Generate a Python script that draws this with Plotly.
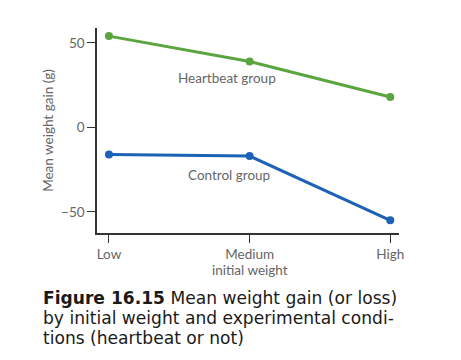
import plotly.graph_objects as go

categories = ["Low", "Medium", "High"]
heartbeat = [54, 39, 18]
control = [-16, -17, -55]
x_pos = [0, 1, 2]
y_ticks = [-50, 0, 50]
y_ticktext = ["\u221250", "0", "50"]

caption_lines = [
    "<b>Figure 16.15</b> Mean weight gain (or loss)",
    "by initial weight and experimental condi-",
    "tions (heartbeat or not)",
]

green = "#5aa540"
blue = "#1c62b5"
gray = "#666666"
tickfont = dict(family="Lato, sans-serif", size=13.5, color=gray)

# plot area in figure pixel coords (page body has 8px offset)
L, R, T, B = 89, 70, 20, 135
W, H = 461, 360
pw, ph = W - L - R, H - T - B


def px_to_paper(xw, yw):
    xf, yf = xw - 8, yw - 8
    return (xf - L) / pw, (H - B - yf) / ph


fig = go.Figure()
fig.add_trace(go.Scatter(x=x_pos, y=heartbeat, mode="lines+markers",
                         line=dict(color=green, width=3), marker=dict(size=8, color=green)))
fig.add_trace(go.Scatter(x=x_pos, y=control, mode="lines+markers",
                         line=dict(color=blue, width=3), marker=dict(size=8, color=blue)))

fig.update_layout(
    width=W, height=H, showlegend=False,
    paper_bgcolor="white", plot_bgcolor="white",
    margin=dict(l=L, r=R, t=T, b=B),
    xaxis=dict(range=[-0.085, 2.062], tickvals=x_pos, ticktext=categories,
               showgrid=False, zeroline=False, showline=True, linecolor="#333", linewidth=1.5,
               ticks="outside", ticklen=8, tickcolor="#333", tickfont=tickfont),
    yaxis=dict(range=[-62.5, 58.8], tickvals=y_ticks, ticktext=y_ticktext,
               showgrid=False, zeroline=False, showline=True, linecolor="#333", linewidth=1.5,
               ticks="outside", ticklen=8, tickcolor="#333", tickfont=tickfont,
               title=dict(text="Mean weight gain (g)", font=tickfont, standoff=4)),
)

fig.add_annotation(x=0.84, y=29, xref="x", yref="y", text="Heartbeat group",
                   showarrow=False, font=tickfont)
fig.add_annotation(x=0.85, y=-28, xref="x", yref="y", text="Control group",
                   showarrow=False, font=tickfont)
xp, yp = px_to_paper(250, 270)
fig.add_annotation(x=1, y=yp, xref="x", yref="paper", text="initial weight",
                   xanchor="center", yanchor="middle", showarrow=False, font=tickfont)

for i, line in enumerate(caption_lines):
    xp, yp = px_to_paper(41, 298 + 20 * i)
    fig.add_annotation(text=line, xref="paper", yref="paper", x=xp, y=yp,
                       xanchor="left", yanchor="middle", align="left", showarrow=False,
                       font=dict(family="DejaVu Sans, sans-serif", size=17.1, color="#1a1a1a"))

fig.write_html("out.html")
